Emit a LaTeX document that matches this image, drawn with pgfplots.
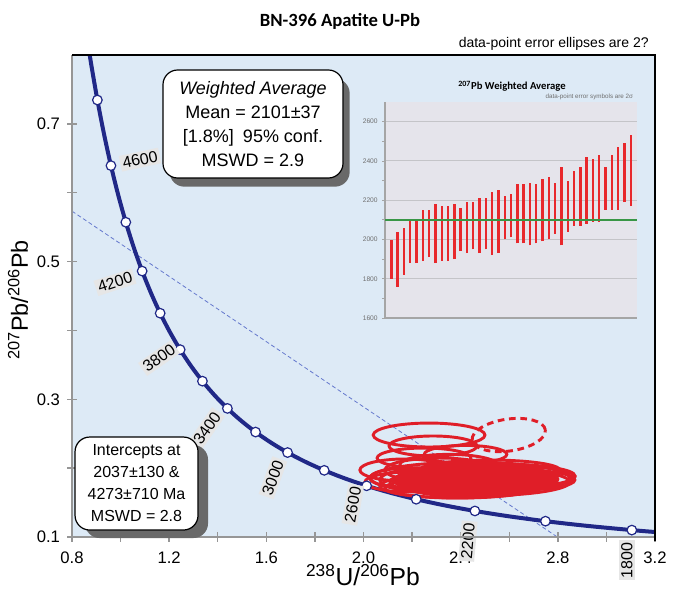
\documentclass[border=0pt]{standalone}
\usepackage{fontspec}
\setmainfont{Liberation Sans}
\newfontfamily\calibri{Carlito}
\usepackage{pgfplots}
\usepackage{pgfplotstable}
\pgfplotsset{compat=1.18}
\usetikzlibrary{shadows}

\definecolor{bgblue}{RGB}{221,234,246}
\definecolor{navy}{RGB}{32,40,135}
\definecolor{ellred}{RGB}{224,30,40}
\definecolor{labgray}{RGB}{230,230,230}
\definecolor{axgray}{RGB}{150,150,150}
\definecolor{discblue}{RGB}{100,120,205}
\definecolor{insetbg}{RGB}{229,228,235}
\definecolor{gridgray}{RGB}{196,196,200}
\definecolor{insetaxis}{RGB}{165,165,165}
\definecolor{insettext}{RGB}{110,110,110}
\definecolor{barred}{RGB}{232,40,44}
\definecolor{meangreen}{RGB}{56,150,70}
\definecolor{shadowgray}{RGB}{105,105,105}

% Tera-Wasserburg concordia: age (Ma), 238U/206Pb, 207Pb/206Pb
\pgfplotstableread{
t x y
1753 3.20000 0.10724
1800 3.10459 0.11004
1900 2.91739 0.11629
2000 2.74901 0.12299
2100 2.59682 0.13015
2200 2.45856 0.13782
2300 2.33244 0.14603
2400 2.21695 0.15483
2500 2.11081 0.16426
2600 2.01290 0.17437
2700 1.92236 0.18520
2800 1.83837 0.19682
2900 1.76026 0.20928
3000 1.68746 0.22266
3100 1.61941 0.23701
3200 1.55570 0.25242
3300 1.49594 0.26896
3400 1.43975 0.28674
3500 1.38686 0.30583
3600 1.33697 0.32635
3700 1.28984 0.34840
3800 1.24527 0.37210
3900 1.20304 0.39759
4000 1.16298 0.42501
4100 1.12494 0.45450
4200 1.08877 0.48623
4300 1.05435 0.52038
4400 1.02154 0.55714
4500 0.99024 0.59670
4600 0.96036 0.63931
4700 0.93180 0.68520
4800 0.90449 0.73464
4900 0.87834 0.78789
4925 0.87255 0.80182
}\concordia

% age ticks on the concordia every 200 Ma
\pgfplotstableread{
t x y
1800 3.10459 0.11004
2000 2.74901 0.12299
2200 2.45856 0.13782
2400 2.21695 0.15483
2600 2.01290 0.17437
2800 1.83837 0.19682
3000 1.68746 0.22266
3200 1.55570 0.25242
3400 1.43975 0.28674
3600 1.33697 0.32635
3800 1.24527 0.37210
4000 1.16298 0.42501
4200 1.08877 0.48623
4400 1.02154 0.55714
4600 0.96036 0.63931
4800 0.90449 0.73464
}\agemarks

% 2-sigma error ellipses: centre, semi-axes (axis units), tilt (deg)
\pgfplotstableread{
cx cy rx ry rot
2.450 0.1820 0.320 0.0240 0
2.580 0.1840 0.220 0.0180 0
}\ellcore

\pgfplotstableread{
cx cy rx ry rot
2.270 0.2481 0.230 0.0174 0
2.286 0.2322 0.181 0.0145 0
2.249 0.2147 0.193 0.0145 0
2.170 0.1973 0.185 0.0160 0
2.191 0.1857 0.165 0.0145 0
2.438 0.1857 0.410 0.0230 0
2.479 0.1799 0.370 0.0200 0
2.561 0.1886 0.310 0.0174 0
2.397 0.1741 0.330 0.0174 0
2.644 0.1828 0.226 0.0145 0
2.314 0.1973 0.226 0.0174 0
2.520 0.1973 0.288 0.0145 0
2.600 0.1870 0.270 0.0160 0
2.376 0.1712 0.288 0.0145 0
2.273 0.1828 0.206 0.0174 0
2.191 0.1799 0.185 0.0145 0
2.350 0.2050 0.200 0.0150 0
2.420 0.2200 0.170 0.0130 0
}\ellsolid

\pgfplotstableread{
cx cy rx ry rot
2.598 0.2481 0.152 0.0232 8
}\elldash

% 207Pb/206Pb ages with 2-sigma limits, ranked
\pgfplotstableread{
i lo hi
1 1800 1995
2 1760 2040
3 1820 2060
4 1880 2100
5 1880 2100
6 1890 2150
7 1910 2150
8 1880 2180
9 1890 2170
10 1890 2170
11 1900 2180
12 1940 2160
13 1930 2190
14 1950 2190
15 1930 2210
16 1950 2210
17 1920 2240
18 1930 2250
19 2000 2220
20 2010 2230
21 1980 2280
22 1980 2280
23 1970 2290
24 1980 2280
25 1990 2310
26 2000 2320
27 2030 2290
28 1970 2370
29 2040 2300
30 2070 2350
31 2070 2370
32 2080 2420
33 2090 2410
34 2090 2430
35 2150 2370
36 2150 2430
37 2150 2470
38 2190 2490
39 2170 2530
}\wavg

\newcommand{\drawellipses}[2]{%
  \pgfplotstablegetrowsof{#1}%
  \pgfmathtruncatemacro{\nell}{\pgfplotsretval-1}%
  \pgfplotsforeachungrouped \k in {0,...,\nell}{%
    \pgfplotstablegetelem{\k}{cx}\of#1\let\ecx\pgfplotsretval
    \pgfplotstablegetelem{\k}{cy}\of#1\let\ecy\pgfplotsretval
    \pgfplotstablegetelem{\k}{rx}\of#1\let\erx\pgfplotsretval
    \pgfplotstablegetelem{\k}{ry}\of#1\let\ery\pgfplotsretval
    \pgfplotstablegetelem{\k}{rot}\of#1\let\erot\pgfplotsretval
    \edef\next{\noexpand\draw[#2, rotate around={\erot:(axis cs:\ecx,\ecy)}]
      (axis cs:\ecx,\ecy) ellipse [x radius=\erx, y radius=\ery];}%
    \next
  }%
}

\tikzset{
  agelab/.style={fill=labgray, inner sep=1.7pt, font=\fontsize{12}{14}\selectfont},
  infobox/.style={draw=black, line width=0.9pt, fill=white, rounded corners=11pt,
    align=center, inner sep=0pt},
}

\begin{document}
\begin{tikzpicture}
\path[use as bounding box] (0,0) rectangle (510pt,441.75pt);

\begin{axis}[
  at={(54pt,39pt)}, anchor=south west,
  scale only axis, width=437.25pt, height=361.5pt,
  xmin=0.8, xmax=3.2, ymin=0.1, ymax=0.8,
  axis background/.style={fill=bgblue},
  axis line style={draw=none},
  xtick={0.8,1.2,1.6,2.0,2.4,2.8,3.2},
  xticklabels={0.8,1.2,1.6,2.0,2.4,2.8,3.2},
  minor xtick={1.0,1.4,1.8,2.2,2.6,3.0},
  ytick={0.1,0.3,0.5,0.7},
  yticklabels={0.1,0.3,0.5,0.7},
  minor ytick={0.2,0.4,0.6},
  tick pos=left,
  tick align=center,
  major tick length=7pt, minor tick length=7pt,
  tick style={draw=axgray, line width=1.1pt},
  ticklabel style={font=\fontsize{12.5}{14}\selectfont},
  xticklabel style={yshift=-4pt},
  yticklabel style={xshift=-2pt},
  clip mode=individual,
]
% discordia through the two intercepts
\addplot[discblue, line width=0.6pt, dash pattern=on 3pt off 2pt]
  coordinates {(0.8,0.5732) (2.798,0.1)};
% concordia curve
\addplot[navy, line width=3pt, smooth] table[x=x, y=y] {\concordia};
% data-point ellipses
\drawellipses{\ellcore}{fill=ellred, draw=ellred, line width=2.2pt}
\drawellipses{\ellsolid}{draw=ellred, line width=2.2pt}
\drawellipses{\elldash}{draw=ellred, line width=2.2pt, dash pattern=on 5pt off 3.5pt}
% age ticks
\addplot[only marks, mark=*, mark size=3.6pt,
  mark options={fill=white, draw=navy, line width=0.9pt}]
  table[x=x, y=y] {\agemarks};
% age labels
\node[agelab, rotate=12] at (axis cs:1.080,0.648) {4600};
\node[agelab, rotate=18] at (axis cs:0.977,0.470) {4200};
\node[agelab, rotate=35] at (axis cs:1.158,0.360) {3800};
\node[agelab, rotate=55] at (axis cs:1.356,0.258) {3400};
\node[agelab, rotate=70] at (axis cs:1.627,0.186) {3000};
\node[agelab, rotate=80] at (axis cs:1.956,0.147) {2600};
\node[agelab, rotate=85] at (axis cs:2.430,0.094) {2200};
\node[agelab, rotate=90] at (axis cs:3.084,0.066) {1800};
% frame
\draw[axgray, line width=1.5pt] (rel axis cs:0,1) -- (rel axis cs:0,0) -- (rel axis cs:1,0);
\draw[black, line width=1.5pt] (rel axis cs:0,1) -- (rel axis cs:1,1) -- (rel axis cs:1,-0.008);
\end{axis}

% inset: 207Pb weighted average
\begin{axis}[
  at={(288.75pt,203.25pt)}, anchor=south west,
  scale only axis, width=189pt, height=162pt,
  xmin=0, xmax=40, ymin=1600, ymax=2700,
  axis background/.style={fill=insetbg},
  axis x line*=bottom, axis y line*=left,
  axis line style={insetaxis, line width=0.8pt, -},
  xtick=\empty,
  ytick={1600,1800,2000,2200,2400,2600},
  minor ytick={1700,1900,2100,2300,2500},
  ymajorgrids, grid style={gridgray, line width=0.7pt},
  tick style={insetaxis, line width=0.5pt},
  tick align=outside, major tick length=2pt, minor tick length=2pt,
  yticklabel style={font=\fontsize{5}{6}\selectfont, text=insettext},
  /pgf/number format/1000 sep={},
  /pgf/number format/assume math mode=true,
]
\addplot[draw=none, forget plot,
  error bars/.cd, y dir=plus, y explicit, error mark=none,
  error bar style={draw=barred, line width=1.8pt}]
  table[x=i, y=lo, y error expr=\thisrow{hi}-\thisrow{lo}] {\wavg};
\addplot[meangreen, line width=1.5pt] coordinates {(0,2101) (40,2101)};
\end{axis}

\node[font=\calibri\bfseries\fontsize{8}{10}\selectfont] at (384pt,377pt)
  {\textsuperscript{207}Pb Weighted Average};
\node[anchor=east, font=\fontsize{4.7}{5.5}\selectfont, text=insettext, inner sep=0pt]
  at (475pt,369pt) {data-point error symbols are 2σ};

% result boxes
\node[infobox, minimum width=135pt, minimum height=81pt,
  drop shadow={shadow xshift=5pt, shadow yshift=-6.5pt, fill=shadowgray, opacity=1},
  font=\fontsize{13.5}{18}\selectfont] at (189.75pt,348.75pt)
  {\textit{Weighted Average}\\ Mean = 2101±37\\{}[1.8\%]\enspace 95\% conf.\\ MSWD = 2.9};
\node[infobox, minimum width=92.25pt, minimum height=69.75pt,
  drop shadow={shadow xshift=7.5pt, shadow yshift=-6pt, fill=shadowgray, opacity=1},
  font=\fontsize{12}{16.5}\selectfont] at (102.4pt,79.1pt)
  {Intercepts at\\ 2037±130 \&\\ 4273±710 Ma\\ MSWD = 2.8};

% titles and axis labels
\node[font=\calibri\bfseries\fontsize{14}{17}\selectfont] at (255pt,426pt)
  {BN-396 Apatite U-Pb};
\node[anchor=east, font=\fontsize{10.5}{12}\selectfont] at (490pt,408.5pt)
  {data-point error ellipses are 2?};
\node[font=\fontsize{18.5}{22}\selectfont] at (272.25pt,10.5pt)
  {\textsuperscript{238}U/\textsuperscript{206}Pb};
\node[rotate=90, font=\fontsize{17.5}{20}\selectfont] at (13.5pt,216.75pt)
  {\textsuperscript{207}Pb/\textsuperscript{206}Pb};
\end{tikzpicture}
\end{document}
